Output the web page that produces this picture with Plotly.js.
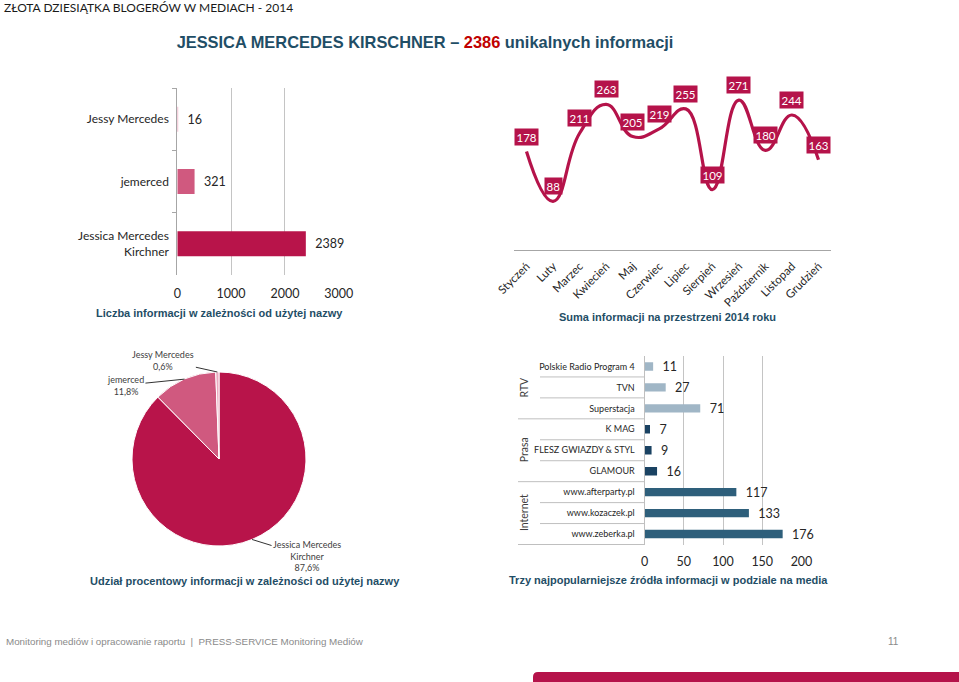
<!DOCTYPE html>
<html>
<head>
<meta charset="utf-8">
<script src="https://cdn.plot.ly/plotly-3.0.1.min.js"></script>
<style>html,body{margin:0;padding:0;background:#fff;}#chart{width:959px;height:682px;}</style>
</head>
<body>
<div id="chart"></div>
<script>
// ---------- data ----------
const nameCats = ['Jessy Mercedes', 'jemerced', 'Jessica Mercedes<br>Kirchner'];
const nameCounts = [16, 321, 2389];

const months = ['Styczeń', 'Luty', 'Marzec', 'Kwiecień', 'Maj', 'Czerwiec', 'Lipiec', 'Sierpień', 'Wrzesień', 'Październik', 'Listopad', 'Grudzień'];
const monthCounts = [178, 88, 211, 263, 205, 219, 255, 109, 271, 180, 244, 163];

const pieLabels = ['Jessica Mercedes<br>Kirchner', 'jemerced', 'Jessy Mercedes'];
const pieShares = [87.6, 11.8, 0.6];
const pieShareText = ['87,6%', '11,8%', '0,6%'];

const sourceGroups = ['RTV', 'RTV', 'RTV', 'Prasa', 'Prasa', 'Prasa', 'Internet', 'Internet', 'Internet'];
const sourceNames = ['Polskie Radio Program 4', 'TVN', 'Superstacja', 'K MAG', 'FLESZ GWIAZDY & STYL', 'GLAMOUR', 'www.afterparty.pl', 'www.kozaczek.pl', 'www.zeberka.pl'];
const sourceCounts = [11, 27, 71, 7, 9, 16, 117, 133, 176];

const mainTitleName = 'JESSICA MERCEDES KIRSCHNER';
const mainTitleCount = 2386;

// ---------- styles ----------
const W = 959, H = 682;
const px = x => x / W;
const py = y => 1 - y / H;
const CAL = 'Lato, "Open Sans", sans-serif';
const ARI = '"Liberation Sans", Arial, sans-serif';
const NAVY = '#1F4E66';
const CRIMSON = '#B5134A';
const nameColors = ['#E8A3BA', '#D0597F', '#B8144A'];
const pieColors = ['#B8144A', '#D0597F', '#EBA9BF'];
const groupColors = {RTV: '#A0B6C6', Prasa: '#1A4262', Internet: '#2E5F7B'};
const GRID = '#C4C4C4';

// pie geometry (pixels)
const pieCx = 219, pieCy = 459, pieR = 87;

const traces = [];

// panel 1: horizontal bars by name
traces.push({
  type: 'bar', orientation: 'h', xaxis: 'x', yaxis: 'y',
  y: nameCats, x: nameCounts,
  width: 0.4,
  marker: {color: nameColors},
  text: nameCounts.map(v => '\u00a0\u00a0' + v), textposition: 'outside', constraintext: 'none',
  cliponaxis: false,
  textfont: {family: CAL, size: 12.5, color: '#262626'},
  hoverinfo: 'none', showlegend: false
});

// panel 2: monthly line
traces.push({
  type: 'scatter', mode: 'lines', xaxis: 'x2', yaxis: 'y2',
  x: months, y: monthCounts,
  line: {color: CRIMSON, width: 3.2, shape: 'spline', smoothing: 1.3},
  hoverinfo: 'none', showlegend: false
});

// panel 3: pie
traces.push({
  type: 'pie', labels: pieLabels, values: pieShares,
  sort: false, direction: 'clockwise', rotation: 0,
  textinfo: 'none', hoverinfo: 'none', showlegend: false,
  marker: {colors: pieColors, line: {color: '#ffffff', width: 1}},
  domain: {x: [px(pieCx - pieR), px(pieCx + pieR)], y: [py(pieCy + pieR), py(pieCy - pieR)]}
});

// panel 4: sources
traces.push({
  type: 'bar', orientation: 'h', xaxis: 'x4', yaxis: 'y4',
  y: sourceNames, x: sourceCounts,
  width: 0.4,
  marker: {color: sourceGroups.map(g => groupColors[g])},
  text: sourceCounts.map(v => '\u00a0\u00a0' + v), textposition: 'outside', constraintext: 'none',
  cliponaxis: false,
  textfont: {family: CAL, size: 12.5, color: '#262626'},
  hoverinfo: 'none', showlegend: false
});

const annotations = [];
const shapes = [];

// header / footer
annotations.push({xref: 'paper', yref: 'paper', x: px(2), y: py(8), xanchor: 'left', yanchor: 'middle',
  text: 'ZŁOTA DZIESIĄTKA BLOGERÓW W MEDIACH - 2014', showarrow: false,
  font: {family: CAL, size: 12, color: '#1a1a1a'}});
annotations.push({xref: 'paper', yref: 'paper', x: px(4), y: py(641), xanchor: 'left', yanchor: 'middle',
  text: 'Monitoring mediów i opracowanie raportu  |  PRESS-SERVICE Monitoring Mediów', showarrow: false,
  font: {family: ARI, size: 9.8, color: '#8a8a8a'}});
annotations.push({xref: 'paper', yref: 'paper', x: px(893), y: py(641), xanchor: 'center', yanchor: 'middle',
  text: '11', showarrow: false,
  font: {family: ARI, size: 10, color: '#8a8a8a'}});

// panel titles
const panelTitle = (text, xc, yc) => annotations.push({xref: 'paper', yref: 'paper', x: px(xc), y: py(yc),
  xanchor: 'center', yanchor: 'middle', text: text, showarrow: false,
  font: {family: ARI, size: 11, color: NAVY, weight: 'bold'}});
panelTitle('Liczba informacji w zależności od użytej nazwy', 219, 313);
panelTitle('Suma informacji na przestrzeni 2014 roku', 667, 317);
panelTitle('Udział procentowy informacji w zależności od użytej nazwy', 245, 581);
panelTitle('Trzy najpopularniejsze źródła informacji w podziale na media', 668, 580);

// panel 2 data labels
months.forEach((m, i) => annotations.push({xref: 'x2', yref: 'y2', x: m, y: monthCounts[i], yshift: 15,
  text: String(monthCounts[i]), showarrow: false, bgcolor: CRIMSON, borderpad: 1.5,
  font: {family: CAL, size: 11.5, color: '#ffffff'}}));

// panel 3 slice labels with leader lines
const pieLabelOffsets = [[55, 17], [-59, 6], [-54, -12]];
let cum = 0;
pieShares.forEach((s, i) => {
  const ang = (cum + s / 2) / 100 * 2 * Math.PI;
  cum += s;
  const tx = pieCx + pieR * Math.sin(ang), ty = pieCy - pieR * Math.cos(ang);
  annotations.push({xref: 'paper', yref: 'paper', x: px(tx), y: py(ty),
    ax: pieLabelOffsets[i][0], ay: pieLabelOffsets[i][1],
    text: pieLabels[i] + '<br>' + pieShareText[i], showarrow: true, arrowhead: 0, arrowwidth: 1, arrowcolor: '#333',
    align: 'center', font: {family: CAL, size: 9, color: '#404040'}});
});

// panel 4 group labels + dividers
const groupsOrder = [...new Set(sourceGroups)];
groupsOrder.forEach(g => {
  const idx = sourceGroups.map((v, i) => v === g ? i : -1).filter(i => i >= 0);
  const mid = (idx[0] + idx[idx.length - 1]) / 2;
  annotations.push({xref: 'paper', yref: 'y4', x: px(524), y: mid, textangle: -90,
    text: g, showarrow: false, font: {family: CAL, size: 10.5, color: '#404040'}});
});
for (let i = 0; i < sourceGroups.length; i++) {
  const last = i === sourceGroups.length - 1;
  const groupEnd = last || sourceGroups[i] !== sourceGroups[i + 1];
  shapes.push({type: 'line', xref: 'paper', yref: 'y4', x0: px(groupEnd ? 518 : 540), x1: px(644.5),
    y0: i + 0.5, y1: i + 0.5, line: {color: '#BFBFBF', width: 1}});
}

// bottom red band with rounded corner
const bx = 533, bTop = 672, r = 5;
shapes.push({type: 'path', xref: 'paper', yref: 'paper', fillcolor: CRIMSON, line: {width: 0},
  path: `M ${px(bx)},0 L ${px(bx)},${py(bTop + r)} Q ${px(bx)},${py(bTop)} ${px(bx + r)},${py(bTop)} L 1,${py(bTop)} L 1,0 Z`});

const layout = {
  width: W, height: H,
  margin: {l: 0, r: 0, t: 0, b: 0},
  paper_bgcolor: '#ffffff', plot_bgcolor: 'rgba(0,0,0,0)',
  font: {family: CAL, color: '#262626'},
  title: {text: mainTitleName + ' – <span style="color:#C00000">' + mainTitleCount + '</span> unikalnych informacji',
    x: px(425), xanchor: 'center', y: py(42), yanchor: 'middle',
    font: {family: ARI, size: 16.4, color: NAVY, weight: 'bold'}},
  xaxis: {domain: [px(177.3), px(338.7)], anchor: 'y', range: [0, 3000], dtick: 1000,
    showgrid: true, gridcolor: GRID, zeroline: false, showline: false, ticks: '', ticklabelstandoff: 9,
    tickfont: {family: CAL, size: 12.5, color: '#262626'}, fixedrange: true},
  yaxis: {domain: [py(275), py(88)], anchor: 'x', type: 'category', autorange: 'reversed',
    showline: true, linecolor: '#A6A6A6', ticks: 'outside', tickson: 'boundaries', ticklen: 4, tickcolor: '#A6A6A6',
    ticklabelstandoff: 5,
    showgrid: false, tickfont: {family: CAL, size: 12, color: '#262626'}, fixedrange: true},
  xaxis2: {domain: [px(514), px(831)], anchor: 'y2', type: 'category', tickangle: -45,
    showline: true, linecolor: '#A6A6A6', ticks: '', showgrid: false, ticklabelstandoff: 4,
    tickfont: {family: CAL, size: 11.5, color: '#262626'}, fixedrange: true},
  yaxis2: {domain: [py(250), py(84)], anchor: 'x2', range: [0, 300], visible: false, fixedrange: true},
  xaxis4: {domain: [px(644.5), px(801.5)], anchor: 'y4', range: [0, 200], dtick: 50,
    showgrid: true, gridcolor: GRID, zeroline: false, showline: false, ticks: '', ticklabelstandoff: 7,
    tickfont: {family: CAL, size: 12.5, color: '#262626'}, fixedrange: true},
  yaxis4: {domain: [py(545), py(356)], anchor: 'x4', type: 'category', autorange: 'reversed',
    showline: true, linecolor: '#BFBFBF', ticks: '', ticklabelstandoff: 7, showgrid: false,
    tickfont: {family: CAL, size: 9, color: '#262626'}, fixedrange: true},
  annotations: annotations,
  shapes: shapes
};

Plotly.newPlot('chart', traces, layout, {staticPlot: true, displayModeBar: false});
</script>
</body>
</html>
